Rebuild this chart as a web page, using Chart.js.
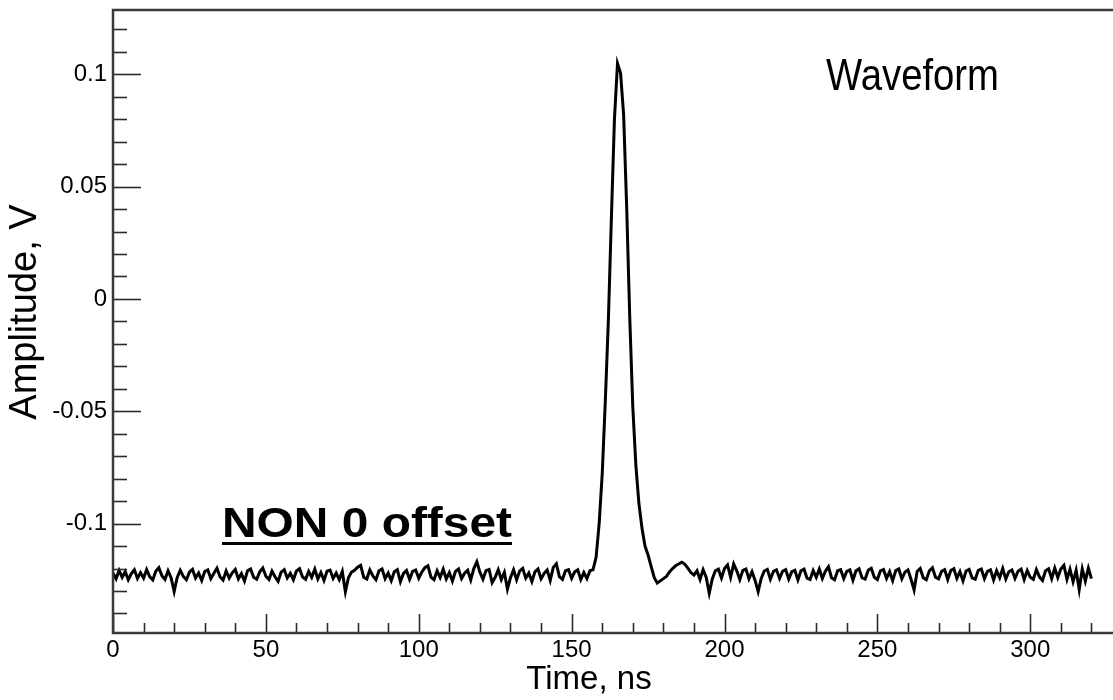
<!DOCTYPE html>
<html>
<head>
<meta charset="utf-8">
<title>Waveform</title>
<script src="https://cdn.jsdelivr.net/npm/chart.js@4"></script>
<style>
  html, body { margin: 0; padding: 0; background: #fff; overflow: hidden; }
  #wrap { width: 1113px; height: 700px; overflow: hidden; }
  canvas { display: block; }
</style>
</head>
<body>
<div id="wrap"><canvas id="wave" width="1140" height="700"></canvas></div>
<script>
// Sampling of the trace (ns)
const startNs = 0;
const stepNs = 1;

// Amplitude, one value per ns, in mV (0 .. 320 ns)
const amplitudeMv = [
  -122.0, -124.6, -120.9, -123.9, -121.4, -125.0, -122.3, -120.6, -124.4, -121.8,
  -124.3, -120.5, -123.6, -125.1, -121.2, -119.6, -123.2, -124.9, -121.0, -124.1,
  -130.2, -124.0, -120.8, -123.5, -125.0, -121.6, -120.4, -124.2, -122.0, -125.3,
  -121.3, -120.6, -124.5, -122.1, -119.9, -123.7, -125.2, -121.1, -124.3, -121.9,
  -120.4, -124.6, -122.3, -125.6, -121.0, -120.2, -123.9, -124.8, -121.5, -119.8,
  -123.4, -124.9, -121.2, -123.7, -125.7, -121.6, -120.5, -124.2, -122.1, -125.0,
  -121.1, -120.1, -123.8, -124.8, -121.3, -123.9, -120.3, -124.6, -121.8, -125.3,
  -121.2, -120.7, -124.4, -122.0, -124.9, -121.3, -130.3, -124.1, -121.6, -120.8,
  -119.4, -118.6, -123.9, -124.7, -120.6, -123.3, -125.0, -121.0, -120.2, -124.5,
  -122.0, -125.4, -121.4, -120.5, -125.9, -122.2, -120.9, -124.8, -121.3, -120.7,
  -124.3, -121.6, -119.6, -118.8, -123.8, -125.0, -121.0, -124.0, -120.3, -124.6,
  -121.8, -125.6, -121.3, -120.2, -124.5, -122.1, -120.8, -125.1, -120.0, -117.0,
  -121.6, -124.7, -120.9, -120.4, -126.3, -123.9, -120.5, -124.9, -121.7, -129.2,
  -124.1, -120.6, -125.0, -121.1, -119.9, -124.3, -122.0, -125.8, -121.5, -120.2,
  -124.6, -122.2, -120.7, -125.3, -119.5, -117.9, -123.6, -124.8, -121.0, -120.5,
  -124.4, -121.5, -120.6, -124.9, -121.8, -124.5, -121.0, -120.5, -115.0, -100.0,
  -78.0, -46.0, -10.0, 36.0, 80.0, 104.8, 100.5, 82.0, 41.0, -8.0,
  -48.0, -74.0, -91.0, -102.0, -110.0, -114.0, -119.0, -124.0, -126.5, -125.5,
  -124.5, -123.5, -121.5, -120.0, -118.8, -118.0, -117.2, -118.0, -119.8, -121.8,
  -122.9, -121.0, -124.9, -120.5, -123.9, -131.0, -124.6, -121.0, -120.3, -124.2,
  -120.0, -118.4, -123.9, -118.0, -121.0, -124.9, -120.8, -120.2, -124.6, -121.4,
  -125.3, -130.3, -124.4, -121.1, -120.4, -124.8, -121.3, -120.6, -124.4, -121.2,
  -120.5, -124.7, -121.4, -120.8, -125.1, -121.0, -120.3, -124.3, -124.9, -120.9,
  -123.9, -120.2, -124.4, -121.2, -119.2, -124.1, -125.0, -121.0, -120.5, -124.5,
  -121.3, -120.6, -125.2, -121.0, -120.1, -124.2, -124.7, -120.8, -119.9, -123.9,
  -124.9, -121.0, -120.4, -124.4, -121.4, -125.4, -120.9, -120.2, -124.6, -121.6,
  -120.6, -124.8, -129.5, -121.3, -120.0, -124.1, -125.0, -121.0, -119.7, -123.9,
  -124.6, -121.2, -120.5, -124.9, -120.9, -120.1, -124.4, -121.4, -125.5, -121.1,
  -120.4, -124.2, -124.8, -120.8, -120.2, -124.5, -121.3, -120.6, -125.1, -121.0,
  -124.1, -120.0, -124.7, -121.4, -120.6, -124.4, -121.2, -120.3, -124.9, -120.9,
  -123.9, -124.8, -120.5, -123.7, -125.3, -121.0, -120.1, -124.5, -119.8, -124.0,
  -120.2, -118.6, -124.8, -120.3, -125.9, -120.8, -129.4, -120.2, -125.6, -119.8,
  -124.5
];

// Axis ranges and ticks
const xMin = 0, xMax = 330;
const yMin = -0.1487, yMax = 0.1286;
const xMajorStep = 50, xMinorStep = 10;
const yMajorStep = 0.05, yMinorStep = 0.01;

const axisTitleX = 'Time, ns';
const axisTitleY = 'Amplitude, V';
const labelWaveform = 'Waveform';
const labelOffset = 'NON 0 offset';

const points = amplitudeMv.map((mv, i) => ({ x: startNs + i * stepNs, y: mv / 1000 }));

const FONT = "'Liberation Sans', Arial, Helvetica, sans-serif";

function isMajor(value, step) {
  const r = value / step;
  return Math.abs(r - Math.round(r)) < 1e-6;
}

// ROOT-like frame with inward ticks
const rootFrame = {
  id: 'rootFrame',
  afterDraw(chart) {
    const { ctx, chartArea: a, scales: { x, y } } = chart;
    ctx.save();
    ctx.strokeStyle = '#2b2b2b';
    ctx.lineWidth = 1.6;
    x.ticks.forEach(t => {
      const px = Math.round(x.getPixelForValue(t.value)) + 0.5;
      const len = isMajor(t.value, xMajorStep) ? 19 : 10;
      ctx.beginPath();
      ctx.moveTo(px, a.bottom);
      ctx.lineTo(px, a.bottom - len);
      ctx.stroke();
    });
    y.ticks.forEach(t => {
      const py = Math.round(y.getPixelForValue(t.value)) + 0.5;
      const len = isMajor(t.value, yMajorStep) ? 28 : 14;
      ctx.beginPath();
      ctx.moveTo(a.left, py);
      ctx.lineTo(a.left + len, py);
      ctx.stroke();
    });
    ctx.strokeStyle = '#3a3a3a';
    ctx.lineWidth = 2.5;
    ctx.beginPath();
    ctx.moveTo(a.right + 20, a.top);
    ctx.lineTo(a.left, a.top);
    ctx.lineTo(a.left, a.bottom);
    ctx.lineTo(a.right + 20, a.bottom);
    ctx.stroke();
    ctx.restore();
  }
};

// Axis titles and text labels
const labels = {
  id: 'labels',
  afterDraw(chart) {
    const { ctx } = chart;
    ctx.save();
    ctx.fillStyle = '#000';

    ctx.textAlign = 'center';
    ctx.textBaseline = 'middle';
    ctx.font = '33px ' + FONT;
    ctx.fillText(axisTitleX, 589, 680);

    ctx.save();
    ctx.translate(26, 312);
    ctx.rotate(-Math.PI / 2);
    ctx.font = '38px ' + FONT;
    ctx.fillText(axisTitleY, 0, 0);
    ctx.restore();

    ctx.textAlign = 'left';
    ctx.textBaseline = 'alphabetic';

    ctx.save();
    ctx.translate(826, 90);
    ctx.scale(0.87, 1);
    ctx.font = '44px ' + FONT;
    ctx.fillText(labelWaveform, 0, 0);
    ctx.restore();

    ctx.save();
    ctx.translate(222, 537);
    ctx.scale(1.14, 1);
    ctx.font = 'bold 42px ' + FONT;
    const w = ctx.measureText(labelOffset).width;
    ctx.fillText(labelOffset, 0, 0);
    ctx.fillRect(0, 5, w, 3);
    ctx.restore();

    ctx.restore();
  }
};

new Chart(document.getElementById('wave'), {
  type: 'line',
  data: {
    datasets: [{
      data: points,
      borderColor: '#000',
      borderWidth: 3,
      pointRadius: 0,
      tension: 0,
      fill: false
    }]
  },
  options: {
    responsive: false,
    animation: false,
    devicePixelRatio: 1,
    layout: { padding: { top: 10, right: 18, left: 0, bottom: 0 } },
    plugins: {
      legend: { display: false },
      tooltip: { enabled: false }
    },
    scales: {
      x: {
        type: 'linear',
        min: xMin,
        max: xMax,
        grid: { display: false, drawTicks: false, tickLength: 0 },
        border: { display: false },
        ticks: {
          stepSize: xMinorStep,
          autoSkip: false,
          includeBounds: false,
          maxRotation: 0,
          padding: 3,
          color: '#000',
          font: { family: FONT, size: 24 },
          callback: v => isMajor(v, xMajorStep) ? String(v) : ''
        },
        title: { display: false, text: axisTitleX },
        afterFit: s => { s.height = 67; s.paddingLeft = 0; s.paddingRight = 0; }
      },
      y: {
        type: 'linear',
        min: yMin,
        max: yMax,
        grid: { display: false, drawTicks: false, tickLength: 0 },
        border: { display: false },
        ticks: {
          stepSize: yMinorStep,
          autoSkip: false,
          includeBounds: false,
          padding: 6,
          color: '#000',
          font: { family: FONT, size: 24 },
          callback: v => isMajor(v, yMajorStep) ? String(Math.round(v * 100) / 100) : ''
        },
        title: { display: false, text: axisTitleY },
        afterFit: s => { s.width = 113; s.paddingTop = 0; s.paddingBottom = 0; }
      }
    }
  },
  plugins: [rootFrame, labels]
});
</script>
</body>
</html>
